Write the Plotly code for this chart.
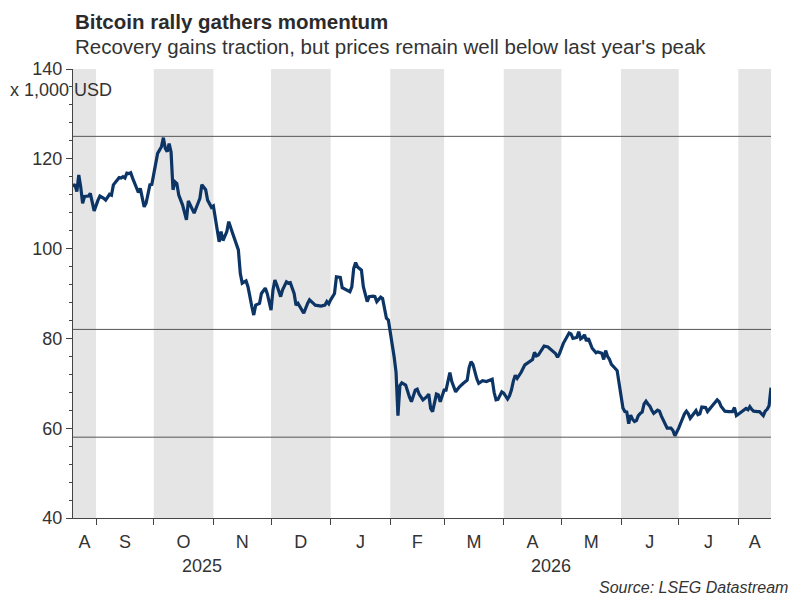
import pandas as pd
import plotly.graph_objects as go

# Bitcoin price, thousands of USD
dates = [
    '2025-08-20', '2025-08-21', '2025-08-22', '2025-08-23', '2025-08-24', '2025-08-25', '2025-08-26',
    '2025-08-28', '2025-08-29', '2025-08-30', '2025-08-31', '2025-09-02', '2025-09-03', '2025-09-05',
    '2025-09-06', '2025-09-08', '2025-09-09', '2025-09-10', '2025-09-13', '2025-09-14', '2025-09-15',
    '2025-09-16', '2025-09-17', '2025-09-18', '2025-09-19', '2025-09-20', '2025-09-22', '2025-09-23',
    '2025-09-24', '2025-09-25', '2025-09-26', '2025-09-27', '2025-09-29', '2025-09-30', '2025-10-01',
    '2025-10-02', '2025-10-03', '2025-10-05', '2025-10-06', '2025-10-07', '2025-10-08', '2025-10-09',
    '2025-10-10', '2025-10-11', '2025-10-12', '2025-10-13', '2025-10-14', '2025-10-16', '2025-10-18',
    '2025-10-19', '2025-10-21', '2025-10-22', '2025-10-24', '2025-10-25', '2025-10-26', '2025-10-28',
    '2025-10-29', '2025-10-31', '2025-11-01', '2025-11-02', '2025-11-04', '2025-11-05', '2025-11-06',
    '2025-11-08', '2025-11-09', '2025-11-11', '2025-11-13', '2025-11-14', '2025-11-15', '2025-11-16',
    '2025-11-18', '2025-11-19', '2025-11-21', '2025-11-22', '2025-11-23', '2025-11-25', '2025-11-26',
    '2025-11-28', '2025-11-29', '2025-12-01', '2025-12-02', '2025-12-03', '2025-12-04', '2025-12-06',
    '2025-12-07', '2025-12-09', '2025-12-10', '2025-12-11', '2025-12-13', '2025-12-14', '2025-12-15',
    '2025-12-17', '2025-12-18', '2025-12-20', '2025-12-21', '2025-12-23', '2025-12-24', '2025-12-27',
    '2025-12-29', '2025-12-30', '2025-12-31', '2026-01-01', '2026-01-03', '2026-01-04', '2026-01-06',
    '2026-01-07', '2026-01-09', '2026-01-11', '2026-01-12', '2026-01-13', '2026-01-14', '2026-01-15',
    '2026-01-17', '2026-01-18', '2026-01-20', '2026-01-21', '2026-01-23', '2026-01-24', '2026-01-25',
    '2026-01-27', '2026-01-28', '2026-01-29', '2026-01-30', '2026-01-31', '2026-02-01', '2026-02-02',
    '2026-02-03', '2026-02-04', '2026-02-05', '2026-02-06', '2026-02-07', '2026-02-09', '2026-02-10',
    '2026-02-11', '2026-02-12', '2026-02-14', '2026-02-15', '2026-02-16', '2026-02-18', '2026-02-20',
    '2026-02-21', '2026-02-22', '2026-02-23', '2026-02-25', '2026-02-26', '2026-02-27', '2026-03-01',
    '2026-03-02', '2026-03-04', '2026-03-05', '2026-03-07', '2026-03-08', '2026-03-09', '2026-03-11',
    '2026-03-13', '2026-03-14', '2026-03-15', '2026-03-16', '2026-03-17', '2026-03-18', '2026-03-19',
    '2026-03-21', '2026-03-23', '2026-03-25', '2026-03-26', '2026-03-27', '2026-03-28', '2026-03-29',
    '2026-03-31', '2026-04-01', '2026-04-03', '2026-04-04', '2026-04-05', '2026-04-06', '2026-04-07',
    '2026-04-08', '2026-04-10', '2026-04-12', '2026-04-14', '2026-04-16', '2026-04-17', '2026-04-18',
    '2026-04-19', '2026-04-20', '2026-04-22', '2026-04-24', '2026-04-25', '2026-04-28', '2026-04-29',
    '2026-04-30', '2026-05-02', '2026-05-04', '2026-05-05', '2026-05-06', '2026-05-07', '2026-05-09',
    '2026-05-10', '2026-05-11', '2026-05-12', '2026-05-13', '2026-05-14', '2026-05-15', '2026-05-17',
    '2026-05-19', '2026-05-20', '2026-05-22', '2026-05-23', '2026-05-24', '2026-05-25', '2026-05-26',
    '2026-05-27', '2026-05-29', '2026-05-30', '2026-05-31', '2026-06-01', '2026-06-02', '2026-06-03',
    '2026-06-04', '2026-06-05', '2026-06-06', '2026-06-07', '2026-06-08', '2026-06-09', '2026-06-10',
    '2026-06-11', '2026-06-12', '2026-06-13', '2026-06-14', '2026-06-15', '2026-06-16', '2026-06-17',
    '2026-06-18', '2026-06-20', '2026-06-21', '2026-06-22', '2026-06-24', '2026-06-25', '2026-06-27',
    '2026-06-28', '2026-06-29', '2026-06-30', '2026-07-01', '2026-07-02', '2026-07-03', '2026-07-04',
    '2026-07-05', '2026-07-06', '2026-07-07', '2026-07-08', '2026-07-09', '2026-07-10', '2026-07-11',
    '2026-07-12', '2026-07-13', '2026-07-14', '2026-07-15', '2026-07-16', '2026-07-18', '2026-07-19',
    '2026-07-21', '2026-07-22', '2026-07-23', '2026-07-25', '2026-07-27', '2026-07-29', '2026-07-30',
    '2026-07-31', '2026-08-01', '2026-08-03', '2026-08-05', '2026-08-06', '2026-08-07', '2026-08-08',
    '2026-08-09', '2026-08-11', '2026-08-12', '2026-08-14', '2026-08-15', '2026-08-16', '2026-08-17',
    '2026-08-18',
]
btc_k = [
    113.8, 114.3, 112.7, 116.4, 113.8, 110.1, 111.6,
    111.7, 112.3, 110.1, 108.4, 110.8, 111.7, 111.2,
    110.8, 112.1, 111.9, 114.2, 115.8, 115.7, 116.0,
    115.7, 116.8, 116.7, 116.9, 115.7, 113.4, 112.5,
    113.4, 111.6, 109.3, 110.1, 114.2, 114.3, 116.4,
    119.0, 121.2, 122.7, 124.7, 122.3, 121.6, 123.4,
    121.5, 113.1, 114.9, 114.5, 111.9, 109.7, 106.4,
    110.6, 108.6, 107.9, 110.1, 111.2, 114.2, 113.1,
    110.8, 109.2, 109.5, 107.1, 101.5, 103.8, 101.8,
    103.8, 106.0, 103.4, 101.2, 99.7, 94.5, 92.3,
    92.8, 91.5, 87.1, 85.2, 87.4, 87.8, 90.0,
    91.2, 90.0, 86.3, 90.8, 93.0, 91.9, 89.3,
    90.8, 92.6, 92.3, 92.4, 90.0, 87.4, 87.8,
    86.5, 85.6, 87.8, 88.6, 87.8, 87.4, 87.2,
    87.4, 88.2, 87.7, 88.6, 90.0, 93.7, 93.6,
    91.3, 90.9, 90.4, 91.5, 95.6, 96.9, 95.9,
    95.2, 91.5, 88.2, 89.3, 89.4, 89.3, 88.2,
    89.2, 88.9, 86.7, 84.5, 84.1, 81.5, 78.2,
    75.9, 72.5, 62.8, 69.5, 70.1, 69.6, 68.1,
    66.9, 65.9, 68.5, 68.7, 67.6, 66.3, 67.0,
    67.6, 64.4, 63.7, 67.6, 67.4, 65.9, 68.5,
    68.5, 72.4, 70.4, 68.1, 68.7, 69.2, 70.0,
    70.7, 73.5, 74.8, 74.2, 72.5, 71.0, 70.0,
    70.6, 70.4, 70.7, 70.9, 68.0, 66.3, 66.4,
    68.1, 67.8, 66.5, 67.2, 68.5, 70.5, 71.8,
    71.1, 72.4, 74.1, 74.6, 75.3, 76.9, 76.1,
    76.3, 77.0, 78.3, 78.1, 77.7, 76.6, 75.8,
    76.6, 78.9, 80.7, 81.2, 81.0, 80.0, 80.2,
    81.5, 79.9, 80.2, 80.8, 79.4, 80.0, 77.8,
    76.8, 77.0, 76.7, 75.3, 77.3, 76.0, 75.3,
    74.2, 73.3, 72.8, 70.0, 66.8, 64.5, 63.7,
    63.6, 61.0, 62.9, 62.0, 61.5, 61.7, 62.8,
    63.3, 63.6, 65.4, 66.0, 65.4, 64.9, 64.0,
    63.3, 64.0, 63.8, 62.7, 60.8, 60.0, 60.0,
    59.5, 58.3, 59.0, 60.0, 61.1, 62.2, 63.2,
    63.8, 63.2, 62.2, 62.8, 63.4, 63.9, 63.0,
    63.2, 64.7, 64.7, 64.6, 63.7, 64.6, 65.3,
    66.3, 65.9, 64.9, 63.8, 63.7, 63.7, 64.6,
    62.8, 63.1, 63.8, 64.4, 64.1, 64.8, 64.2,
    63.8, 63.7, 63.7, 62.8, 63.8, 64.2, 65.0,
    69.0,
]

x_start, x_end = '2025-08-20', '2026-08-18'
month_letters = ['A', 'S', 'O', 'N', 'D', 'J', 'F', 'M', 'A', 'M', 'J', 'J', 'A']
year_labels = ['2025', '2026']
ref_levels = [125, 82, 58]

# month boundaries, clipped to the visible range
edges = list(pd.date_range('2025-09-01', '2026-08-01', freq='MS'))
bounds = [pd.Timestamp(x_start)] + edges + [pd.Timestamp(x_end)]
month_mids = [a + (b - a) / 2 for a, b in zip(bounds[:-1], bounds[1:])]
year_split = pd.Timestamp('2026-01-01')
year_mids = [pd.Timestamp(x_start) + (year_split - pd.Timestamp(x_start)) / 2,
             year_split + (pd.Timestamp(x_end) - year_split) / 2]

font = 'Liberation Sans, Arial, sans-serif'
txt = '#333333'

fig = go.Figure()

# alternate month shading
for i in range(0, len(bounds) - 1, 2):
    fig.add_vrect(x0=bounds[i], x1=bounds[i + 1], fillcolor='#e5e5e5', opacity=1,
                  line_width=0, layer='below')

for lvl in ref_levels:
    fig.add_hline(y=lvl, line=dict(color='#555555', width=1), layer='below')

fig.add_trace(go.Scatter(x=dates, y=btc_k, mode='lines',
                         line=dict(color='#0c3566', width=3.2), showlegend=False))

# page has an 8px body margin, so the figure is a bit smaller than the window
fig.update_layout(
    width=792, height=592,
    margin=dict(l=65, r=29, t=61, b=82),
    plot_bgcolor='white', paper_bgcolor='white',
    font=dict(family=font, size=18, color=txt),
    xaxis=dict(
        range=[x_start, x_end],
        tickmode='array', tickvals=month_mids, ticktext=month_letters,
        ticks='', ticklabelstandoff=7,
        showline=True, linecolor='#444444', linewidth=1,
        showgrid=False, zeroline=False,
        minor=dict(tickmode='array', tickvals=edges, ticks='outside',
                   ticklen=6, tickcolor='#444444', showgrid=False),
    ),
    yaxis=dict(
        range=[40, 140], dtick=20, tick0=40,
        ticks='outside', ticklen=6, tickcolor='#444444',
        showline=True, linecolor='#444444', linewidth=1,
        showgrid=False, zeroline=False,
        minor=dict(dtick=4, ticks='outside', ticklen=3, tickcolor='#444444', showgrid=False),
    ),
)

fig.add_annotation(text='<b>Bitcoin rally gathers momentum</b>', xref='paper', yref='paper',
                   x=0, y=1 + 61 / 449, xanchor='left', yanchor='top', showarrow=False,
                   font=dict(size=20.5, color='#2b2b2b'))
fig.add_annotation(text="Recovery gains traction, but prices remain well below last year's peak",
                   xref='paper', yref='paper', x=0, y=1.049, xanchor='left', yanchor='middle',
                   showarrow=False, font=dict(size=20.5, color=txt))
fig.add_annotation(text='x 1,000 USD', xref='paper', yref='paper', x=-0.093, y=0.953,
                   xanchor='left', yanchor='middle', showarrow=False, font=dict(size=18, color=txt))
for lbl, xm in zip(year_labels, year_mids):
    fig.add_annotation(text=lbl, xref='x', yref='paper', x=xm, y=-0.107,
                       xanchor='center', yanchor='middle', showarrow=False,
                       font=dict(size=18, color=txt))
fig.add_annotation(text='<i>Source: LSEG Datastream</i>', xref='paper', yref='paper',
                   x=1.027, y=-0.154, xanchor='right', yanchor='middle', showarrow=False,
                   font=dict(size=16, color=txt))

fig.write_html('out.html')
